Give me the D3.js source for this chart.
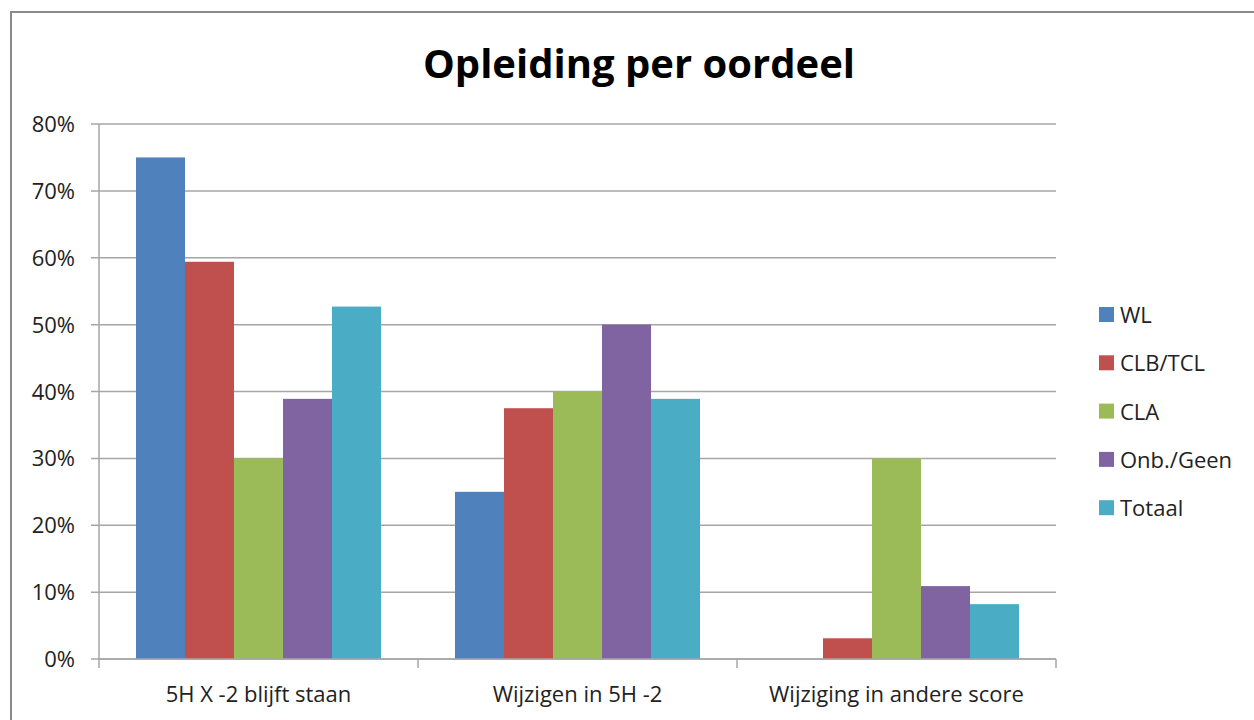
<!DOCTYPE html>
<html>
<head>
<meta charset="utf-8">
<script src="https://cdn.jsdelivr.net/npm/d3@7"></script>
<style>
  body { margin: 0; background: #fff; }
  text { font-family: "Open Sans", Lato, sans-serif; }
</style>
</head>
<body>
<div id="chart"></div>
<script>
// data
const categories = ["5H X -2 blijft staan", "Wijzigen in 5H -2", "Wijziging in andere score"];
const seriesNames = ["WL", "CLB/TCL", "CLA", "Onb./Geen", "Totaal"];
const seriesColors = ["#4F81BD", "#C0504D", "#9BBB59", "#8064A2", "#4BACC6"];
const wl = [0.75, 0.25, 0];
const clb = [0.594, 0.375, 0.031];
const cla = [0.30, 0.40, 0.30];
const onb = [0.389, 0.50, 0.109];
const totaal = [0.527, 0.389, 0.082];
const yTicks = [0, 0.1, 0.2, 0.3, 0.4, 0.5, 0.6, 0.7, 0.8];

const allSeries = [wl, clb, cla, onb, totaal];

const width = 1254, height = 720;
const plot = {left: 99, right: 1056, top: 124, bottom: 659};

const svg = d3.select("#chart").append("svg")
  .attr("width", width)
  .attr("height", height);

// outer frame
svg.append("rect")
  .attr("x", 11).attr("y", 12)
  .attr("width", 1400).attr("height", 900)
  .attr("fill", "none")
  .attr("stroke", "#8a8a8a")
  .attr("stroke-width", 2);

// title
svg.append("text")
  .attr("x", 639).attr("y", 78)
  .attr("text-anchor", "middle")
  .style("font-size", "40px")
  .style("font-weight", "bold")
  .attr("fill", "#000")
  .text("Opleiding per oordeel");

// scales
const x0 = d3.scaleBand()
  .domain(categories)
  .range([plot.left, plot.right])
  .paddingInner(0).paddingOuter(0);

const x1 = d3.scaleBand()
  .domain(seriesNames)
  .range([0, x0.bandwidth()])
  .paddingInner(0).paddingOuter(0.755);

const y = d3.scaleLinear()
  .domain([0, 0.8])
  .range([plot.bottom, plot.top]);

// gridlines
svg.append("g")
  .selectAll("line")
  .data(yTicks)
  .enter()
  .append("line")
  .attr("x1", plot.left - 8)
  .attr("x2", plot.right)
  .attr("y1", d => y(d))
  .attr("y2", d => y(d))
  .attr("stroke", "#a6a6a6")
  .attr("stroke-width", 1.5);

// y tick labels
svg.append("g")
  .selectAll("text")
  .data(yTicks)
  .enter()
  .append("text")
  .attr("x", 75)
  .attr("y", d => y(d) + 8)
  .attr("text-anchor", "end")
  .style("font-size", "22px")
  .attr("fill", "#222")
  .text(d3.format(".0%"));

// bars
const groups = svg.append("g")
  .selectAll("g")
  .data(categories)
  .enter()
  .append("g")
  .attr("transform", d => "translate(" + x0(d) + ",0)");

groups.selectAll("rect")
  .data((c, ci) => seriesNames.map((s, si) => ({s: s, v: allSeries[si][ci], color: seriesColors[si]})))
  .enter()
  .append("rect")
  .filter(d => d.v > 0)
  .attr("x", d => x1(d.s))
  .attr("width", x1.bandwidth())
  .attr("y", d => y(d.v))
  .attr("height", d => y(0) - y(d.v))
  .attr("fill", d => d.color);

// y axis line
svg.append("line")
  .attr("x1", plot.left).attr("x2", plot.left)
  .attr("y1", plot.top).attr("y2", plot.bottom)
  .attr("stroke", "#a6a6a6")
  .attr("stroke-width", 1.5);

// x axis line and ticks
svg.append("line")
  .attr("x1", plot.left).attr("x2", plot.right)
  .attr("y1", plot.bottom).attr("y2", plot.bottom)
  .attr("stroke", "#a6a6a6")
  .attr("stroke-width", 1.5);

const xTickPos = categories.map(c => x0(c)).concat([plot.right]);
svg.append("g")
  .selectAll("line")
  .data(xTickPos)
  .enter()
  .append("line")
  .attr("x1", d => d).attr("x2", d => d)
  .attr("y1", plot.bottom).attr("y2", plot.bottom + 9)
  .attr("stroke", "#a6a6a6")
  .attr("stroke-width", 1.5);

// category labels
svg.append("g")
  .selectAll("text")
  .data(categories)
  .enter()
  .append("text")
  .attr("x", d => x0(d) + x0.bandwidth() / 2)
  .attr("y", 702)
  .attr("text-anchor", "middle")
  .style("font-size", "22px")
  .attr("fill", "#222")
  .text(d => d);

// legend
const legend = svg.append("g")
  .selectAll("g")
  .data(seriesNames)
  .enter()
  .append("g")
  .attr("transform", (d, i) => "translate(1099," + (307 + i * 48.3) + ")");

legend.append("rect")
  .attr("width", 15).attr("height", 15)
  .attr("fill", (d, i) => seriesColors[i]);

legend.append("text")
  .attr("x", 21).attr("y", 16)
  .style("font-size", "22px")
  .attr("fill", "#222")
  .text(d => d);
</script>
</body>
</html>
